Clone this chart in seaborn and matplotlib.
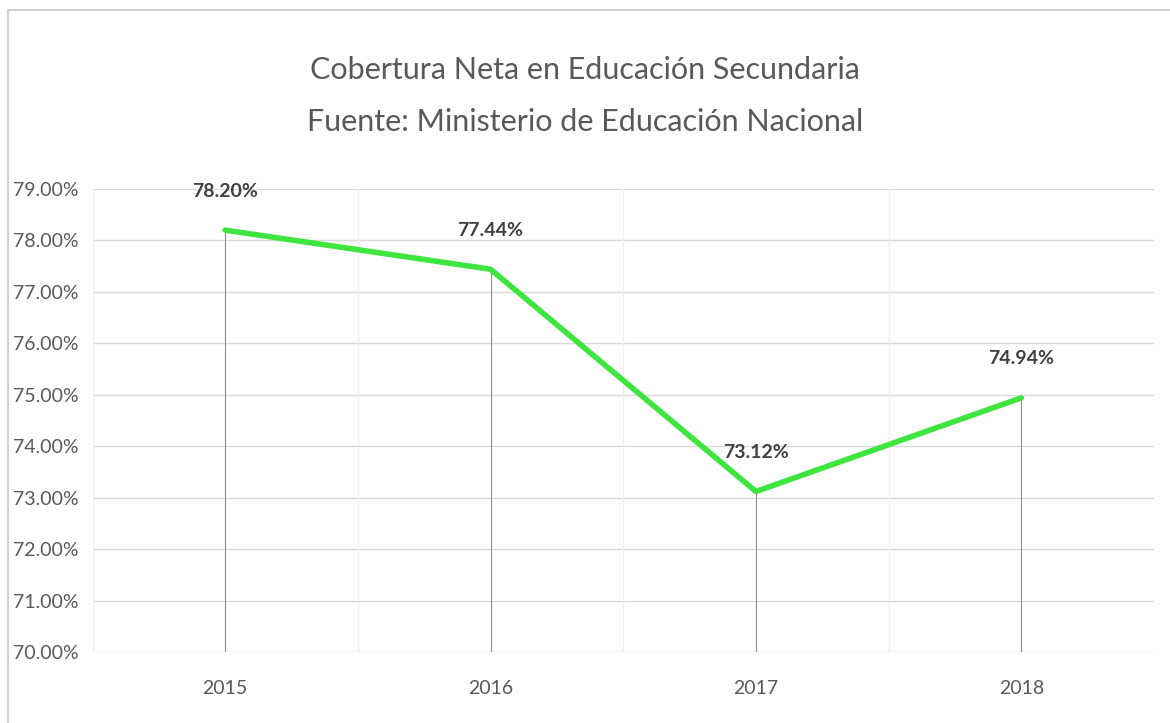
import pandas as pd
import numpy as np
import matplotlib.pyplot as plt
import seaborn as sns
from matplotlib.patches import Rectangle

# datos
years = ['2015', '2016', '2017', '2018']
cobertura = [78.20, 77.44, 73.12, 74.94]
y_ticks = [70, 71, 72, 73, 74, 75, 76, 77, 78, 79]

df = pd.DataFrame({'pos': range(len(years)), 'year': years, 'cobertura': cobertura})

sns.set_style('white')
plt.rcParams['font.family'] = ['Lato', 'DejaVu Sans']

fig = plt.figure(figsize=(11.7, 7.23), dpi=100)
ax = fig.add_axes([92.5 / 1170, 1 - 652 / 723, (1154 - 92.5) / 1170, (652 - 189) / 723])

# borde exterior del grafico
fig.patches.append(Rectangle((8 / 1170, -0.01), 1.1, 1 - 10 / 723 + 0.01, transform=fig.transFigure,
                             fill=False, edgecolor='#d0d0d0', linewidth=1.5))

ax.set_xlim(-0.5, len(years) - 0.5)
ax.set_ylim(70, 79)

# cuadricula
for t in y_ticks:
    ax.axhline(t, color='#d9d9d9', linewidth=1, zorder=0)
for b in np.arange(-0.5, len(years), 1.0):
    ax.axvline(b, color='#f0f0f0', linewidth=1, zorder=0)

# lineas de caida
ax.vlines(df['pos'], 70, df['cobertura'], color='#8c8c8c', linewidth=0.8, zorder=1)

sns.lineplot(data=df, x='pos', y='cobertura', color='#3fe53f', linewidth=4, ax=ax, zorder=3)

for p, v in zip(df['pos'], df['cobertura']):
    ax.annotate(f'{v:.2f}%', (p, v), xytext=(0, 28), textcoords='offset points',
                ha='center', va='center', fontsize=14, fontweight='bold', color='#404040')

ax.set_xticks(df['pos'])
ax.set_xticklabels(years)
ax.set_yticks(y_ticks)
ax.set_yticklabels([f'{t:.2f}%' for t in y_ticks])
ax.tick_params(axis='both', labelsize=14, labelcolor='#595959', length=0)
ax.tick_params(axis='x', pad=20)
ax.tick_params(axis='y', pad=10)
ax.set_xlabel('')
ax.set_ylabel('')
for s in ax.spines.values():
    s.set_visible(False)

fig.text(0.5, 1 - 70 / 723, 'Cobertura Neta en Educación Secundaria', ha='center', va='center',
         fontsize=22, color='#595959')
fig.text(0.5, 1 - 122 / 723, 'Fuente: Ministerio de Educación Nacional', ha='center', va='center',
         fontsize=22, color='#595959')

fig.savefig('out.png', dpi=100)
